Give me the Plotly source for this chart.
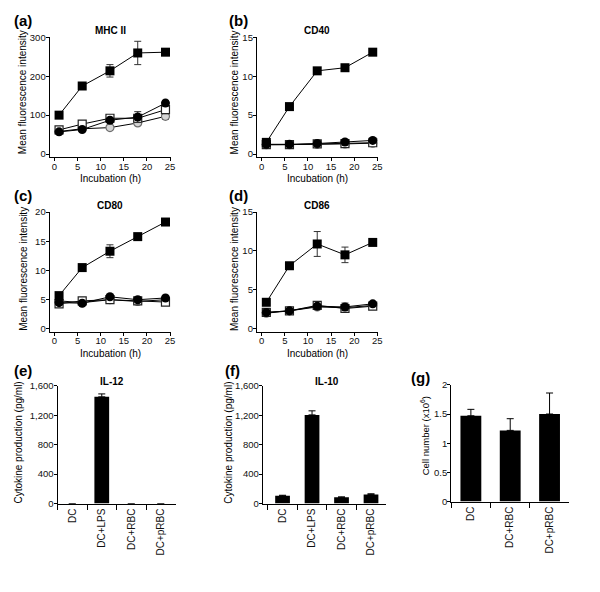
import plotly.graph_objects as go

FONT = "Liberation Sans, Arial, sans-serif"
W, H = 600, 592

hours = [1, 6, 12, 18, 24]

# (a) MHC II
mhc_lps = [100, 175, 214, 260, 262]
mhc_lps_err = [5, 6, 16, 30, 5]
mhc_dc = [57, 63, 87, 95, 131]
mhc_dc_err = [4, 4, 5, 14, 7]
mhc_rbc = [62, 77, 92, 92, 114]
mhc_rbc_err = [4, 5, 6, 8, 10]
mhc_prbc = [58, 65, 68, 80, 97]
mhc_prbc_err = [4, 5, 5, 5, 8]

# (b) CD40
cd40_lps = [1.5, 6.1, 10.7, 11.1, 13.1]
cd40_lps_err = [0.2, 0.2, 0.2, 0.2, 0.2]
cd40_dc = [1.25, 1.25, 1.35, 1.55, 1.75]
cd40_dc_err = [0.1, 0.1, 0.1, 0.1, 0.1]
cd40_rbc = [1.2, 1.2, 1.3, 1.35, 1.45]
cd40_rbc_err = [0.1, 0.1, 0.1, 0.1, 0.1]
cd40_prbc = [1.2, 1.2, 1.25, 1.3, 1.4]
cd40_prbc_err = [0.1, 0.1, 0.1, 0.1, 0.1]

# (c) CD80
cd80_lps = [5.7, 10.5, 13.3, 15.8, 18.3]
cd80_lps_err = [0.3, 0.3, 1.1, 0.4, 0.3]
cd80_dc = [4.5, 4.4, 5.5, 5.0, 5.3]
cd80_dc_err = [0.2, 0.2, 0.3, 0.2, 0.2]
cd80_rbc = [4.3, 4.8, 5.0, 4.8, 4.6]
cd80_rbc_err = [0.2, 0.2, 0.2, 0.2, 0.2]
cd80_prbc = [4.8, 4.5, 5.0, 4.7, 5.0]
cd80_prbc_err = [0.2, 0.2, 0.2, 0.2, 0.2]

# (d) CD86
cd86_lps = [3.4, 8.1, 10.9, 9.5, 11.1]
cd86_lps_err = [0.2, 0.2, 1.6, 1.0, 0.2]
cd86_dc = [2.1, 2.3, 2.9, 2.8, 3.2]
cd86_dc_err = [0.2, 0.2, 0.2, 0.5, 0.2]
cd86_rbc = [2.1, 2.3, 3.0, 2.6, 2.9]
cd86_rbc_err = [0.2, 0.2, 0.2, 0.4, 0.2]
cd86_prbc = [2.0, 2.3, 2.8, 2.7, 3.0]
cd86_prbc_err = [0.2, 0.2, 0.2, 0.3, 0.2]

# (e), (f) cytokines
cyto_groups = ["DC", "DC+LPS", "DC+RBC", "DC+pRBC"]
il12 = [0, 1450, 0, 0]
il12_err = [0, 40, 0, 0]
il10 = [105, 1205, 85, 125]
il10_err = [8, 55, 6, 8]

# (g) cell number
cell_groups = ["DC", "DC+RBC", "DC+pRBC"]
cells = [1.47, 1.22, 1.50]
cells_err = [0.11, 0.20, 0.36]

def px(x):
    return x / W

def py(y):
    return 1 - y / H

fig = go.Figure()

styles = {
    "DC+pRBC": dict(symbol="circle", size=8, color="#d4d4d4", line=dict(color="#6e6e6e", width=1.2)),
    "DC+RBC": dict(symbol="square", size=8, color="white", line=dict(color="#222222", width=1.2)),
    "DC": dict(symbol="circle", size=9, color="black", line=dict(color="black", width=0)),
    "DC+LPS": dict(symbol="square", size=9, color="black", line=dict(color="black", width=0)),
}

line_panels = [
    ("x", "y", {"DC+pRBC": (mhc_prbc, mhc_prbc_err), "DC+RBC": (mhc_rbc, mhc_rbc_err),
                "DC": (mhc_dc, mhc_dc_err), "DC+LPS": (mhc_lps, mhc_lps_err)}),
    ("x2", "y2", {"DC+pRBC": (cd40_prbc, cd40_prbc_err), "DC+RBC": (cd40_rbc, cd40_rbc_err),
                  "DC": (cd40_dc, cd40_dc_err), "DC+LPS": (cd40_lps, cd40_lps_err)}),
    ("x3", "y3", {"DC+pRBC": (cd80_prbc, cd80_prbc_err), "DC+RBC": (cd80_rbc, cd80_rbc_err),
                  "DC": (cd80_dc, cd80_dc_err), "DC+LPS": (cd80_lps, cd80_lps_err)}),
    ("x4", "y4", {"DC+pRBC": (cd86_prbc, cd86_prbc_err), "DC+RBC": (cd86_rbc, cd86_rbc_err),
                  "DC": (cd86_dc, cd86_dc_err), "DC+LPS": (cd86_lps, cd86_lps_err)}),
]

for xa, ya, series in line_panels:
    for name, (vals, errs) in series.items():
        fig.add_trace(go.Scatter(
            x=hours, y=vals, name=name, mode="lines+markers", xaxis=xa, yaxis=ya,
            line=dict(color="black", width=1),
            marker=styles[name],
            error_y=dict(type="data", array=errs, color="#333333", thickness=1, width=3.5),
            cliponaxis=False, showlegend=False,
        ))

def up_only(errs):
    return [e if e else None for e in errs]

bar_err = dict(type="data", symmetric=False, thickness=1, width=3.5, color="black")
fig.add_trace(go.Bar(x=cyto_groups, y=il12, xaxis="x5", yaxis="y5", width=0.5,
                     marker=dict(color="black", line=dict(width=0)),
                     error_y=dict(array=up_only(il12_err), arrayminus=[0] * 4, **bar_err), showlegend=False))
fig.add_trace(go.Bar(x=cyto_groups, y=il10, xaxis="x6", yaxis="y6", width=0.5,
                     marker=dict(color="black", line=dict(width=0)),
                     error_y=dict(array=il10_err, arrayminus=[0] * 4, **bar_err), showlegend=False))
fig.add_trace(go.Bar(x=cell_groups, y=cells, xaxis="x7", yaxis="y7", width=0.53,
                     marker=dict(color="black", line=dict(width=0)),
                     error_y=dict(array=cells_err, arrayminus=[0] * 3, **bar_err), showlegend=False))

axbase = dict(showline=True, linecolor="black", linewidth=1, ticks="outside", ticklen=3,
              tickwidth=1, tickcolor="black", showgrid=False, zeroline=False,
              tickfont=dict(family=FONT, size=9.5, color="#111111"))

# pixel boxes: (left, right, top, bottom)
boxes = {
    1: (50, 172, 32, 154),
    2: (259, 381, 32, 154),
    3: (50, 172, 210, 332),
    4: (259, 381, 210, 332),
    5: (58, 177, 387, 507),
    6: (265, 389, 387, 507),
    7: (455, 574, 386, 505),
}
yranges = {1: [-8, 300], 2: [-0.4, 15], 3: [-0.5, 20], 4: [-0.4, 15]}
ytv = {1: [0, 100, 200, 300], 2: [0, 5, 10, 15], 3: [0, 5, 10, 15, 20], 4: [0, 5, 10, 15]}

layout = {}
for i, (l, r, t, b) in boxes.items():
    xk = "xaxis" if i == 1 else f"xaxis{i}"
    yk = "yaxis" if i == 1 else f"yaxis{i}"
    xa = dict(axbase, domain=[px(l), px(r)], anchor="y" if i == 1 else f"y{i}")
    ya = dict(axbase, domain=[py(b), py(t)], anchor="x" if i == 1 else f"x{i}",
              ticklabelstandoff=-2)
    if i <= 4:
        xa.update(range=[-1.05, 25.1], tickvals=[0, 5, 10, 15, 20, 25], ticklabelstandoff=-3)
        ya.update(range=yranges[i], tickvals=ytv[i])
    else:
        xa.update(type="category", tickson="boundaries", tickangle=-90, ticklen=5,
                  tickfont=dict(family=FONT, size=10, color="#111111"))
        if i == 5:
            xa.update(range=[-0.5, 3.5])
        elif i == 6:
            xa.update(range=[-0.67, 3.5])
        else:
            xa.update(range=[-0.5, 2.5])
        if i in (5, 6):
            ya.update(range=[0, 1600], tickvals=[0, 400, 800, 1200, 1600],
                      ticktext=["0", "400", "800", "1,200", "1,600"])
        else:
            ya.update(range=[0, 2], tickvals=[0, 0.5, 1, 1.5, 2],
                      ticktext=["0", "0.5", "1", "1.5", "2"])
    layout[xk] = xa
    layout[yk] = ya

ann = []
def text(x, y, s, size=10, bold=False, angle=0, xanchor="center"):
    ann.append(dict(x=px(x), y=py(y), xref="paper", yref="paper", text=f"<b>{s}</b>" if bold else s,
                    showarrow=False, textangle=angle, xanchor=xanchor, yanchor="middle",
                    font=dict(family=FONT, size=size, color="black")))

# panel letters
for s, x, y in [("(a)", 12, 15), ("(b)", 229, 15), ("(c)", 12, 193), ("(d)", 229, 193),
                ("(e)", 12, 371), ("(f)", 225, 371), ("(g)", 412, 379)]:
    text(x, y, s, size=15, bold=True, xanchor="left")

# panel titles
for s, x, y in [("MHC II", 111, 25), ("CD40", 320, 25), ("CD80", 111, 203), ("CD86", 320, 203),
                ("IL-12", 113, 383), ("IL-10", 330, 383)]:
    text(x, y, s, size=10, bold=True)

# axis titles
for x, y in [(23, 88), (236, 88), (23, 268), (236, 268)]:
    text(x, y, "Mean fluorescence intensity", size=10, angle=-90)
for x, y in [(111, 176), (320, 176), (111, 354), (320, 354)]:
    text(x, y, "Incubation (h)", size=10)
text(19, 445, "Cytokine production (pg/ml)", size=10, angle=-90)
text(231, 445, "Cytokine production (pg/ml)", size=10, angle=-90)
text(428, 438, "Cell number (x10<sup>6</sup>)", size=9.5, angle=-90)

fig.update_layout(
    width=W, height=H, margin=dict(l=0, r=0, t=0, b=0),
    paper_bgcolor="white", plot_bgcolor="white",
    font=dict(family=FONT, size=10, color="black"),
    bargap=0.5, annotations=ann, showlegend=False,
    **layout,
)

fig.write_html("out.html", config={"displayModeBar": False},
               post_script="document.body.style.margin='0px';")
